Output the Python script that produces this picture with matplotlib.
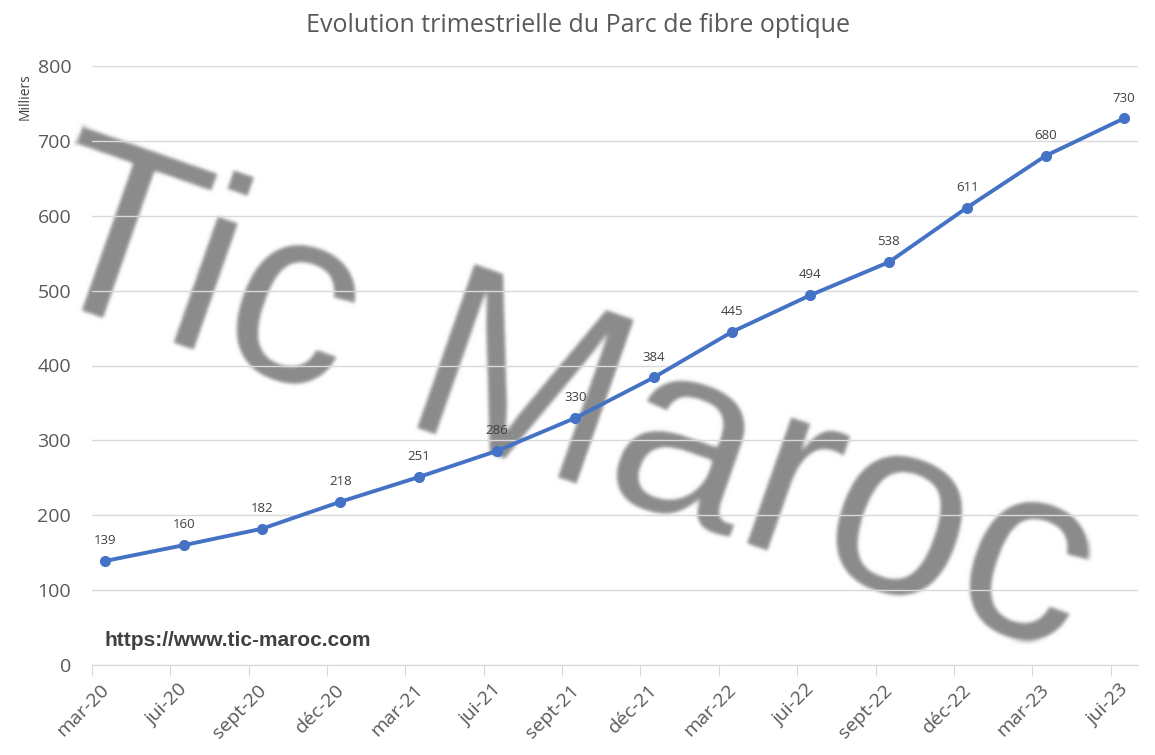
import matplotlib
matplotlib.use("Agg")
import matplotlib.pyplot as plt
import matplotlib.transforms as mtransforms
import numpy as np

categories = ["mar-20", "jui-20", "sept-20", "déc-20", "mar-21", "jui-21", "sept-21",
              "déc-21", "mar-22", "jui-22", "sept-22", "déc-22", "mar-23", "jui-23"]
values = [139, 160, 182, 218, 251, 286, 330, 384, 445, 494, 538, 611, 680, 730]
yticks = [0, 100, 200, 300, 400, 500, 600, 700, 800]

plt.rcParams['font.family'] = ['Open Sans', 'DejaVu Sans']

fig = plt.figure(figsize=(11.55, 7.55), dpi=100)
ax = fig.add_axes([92/1155, 1-665/755, (1138-92)/1155, (665-66)/755])

idx = np.arange(len(categories))
xpos = idx + 0.17


def blur(im, dpi, sigma=2.0):
    pad = int(3 * sigma) + 1
    im = np.pad(im, ((pad, pad), (pad, pad), (0, 0)))
    r = np.arange(-pad, pad + 1)
    k = np.exp(-r**2 / (2 * sigma**2))
    k /= k.sum()
    out = np.apply_along_axis(lambda m: np.convolve(m, k, mode="same"), 0, im)
    out = np.apply_along_axis(lambda m: np.convolve(m, k, mode="same"), 1, out)
    return out, -pad, -pad


wm = ax.text(562/1155, 1-410/755, "Tic Maroc", fontsize=183, color="#8a8a8a",
             rotation=-19.3, ha="center", va="center", family="Liberation Sans",
             transform=fig.transFigure, zorder=0.5, clip_on=False)
wm.set_agg_filter(blur)

ax.set_facecolor("none")
for y in yticks:
    ax.axhline(y, color="#d9d9d9", lw=1, zorder=1)

ax.plot(xpos, values, color="#4472c4", lw=2.8, marker="o", ms=7, zorder=3)
for x, v in zip(xpos, values):
    ax.annotate(str(v), (x, v), xytext=(0, 10), textcoords="offset points",
                ha="center", va="bottom", fontsize=9.5, color="#404040", zorder=4)

ax.set_ylim(0, 800)
ax.set_xlim(0, 13.35)
ax.set_yticks(yticks)
ax.set_yticklabels([str(y) for y in yticks], fontsize=14, color="#595959")
ax.set_xticks(idx)
ax.set_xticklabels([])
xt = ax.get_xaxis_transform() + mtransforms.ScaledTranslation(8/100, -16/100, fig.dpi_scale_trans)
for i, c in zip(idx, categories):
    ax.text(i, 0, c, transform=xt, rotation=45, ha="right", va="top",
            rotation_mode="anchor", fontsize=14, color="#595959", clip_on=False)
ax.tick_params(axis="y", length=0, pad=15)
ax.tick_params(axis="x", length=8, color="#d9d9d9")
for s in ["top", "right", "left"]:
    ax.spines[s].set_visible(False)
ax.spines["bottom"].set_color("#d9d9d9")

fig.text(0.5, 1-26/755, "Evolution trimestrielle du Parc de fibre optique",
         ha="center", va="center", fontsize=18, color="#595959")
fig.text(25/1155, 1-97/755, "Milliers", rotation=90, ha="center", va="center",
         fontsize=10, color="#404040")
fig.text(105/1155, 1-641/755, "https://www.tic-maroc.com", ha="left", va="center",
         fontsize=15, fontweight="bold", color="#404040", family="Liberation Sans")

fig.savefig("out.png", dpi=100)
